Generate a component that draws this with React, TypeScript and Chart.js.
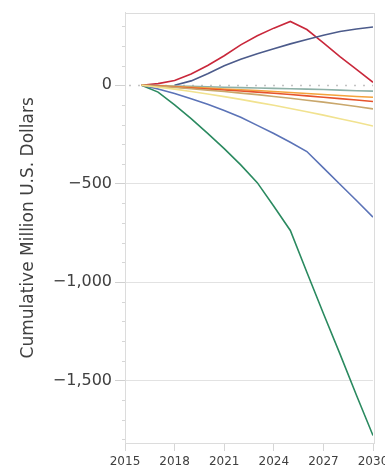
import React, { useEffect, useRef } from "react";
import { Chart, registerables } from "chart.js";

Chart.register(...registerables);

const years = [2016, 2017, 2018, 2019, 2020, 2021, 2022, 2023, 2024, 2025, 2026, 2027, 2028, 2029, 2030];
const navyYears = [2018, 2019, 2020, 2021, 2022, 2023, 2024, 2025, 2026, 2027, 2028, 2029, 2030];

const redValues = [0, 8, 24, 57, 100, 150, 205, 251, 290, 324, 283, 215, 145, 80, 15];
const navyValues = [0, 22, 58, 99, 132, 160, 185, 210, 232, 254, 273, 286, 296];
const tealValues = [0, -2, -4, -6, -8, -10, -12, -14, -16, -18, -20, -22, -25, -28, -30];
const orangeValues = [0, -3, -7, -11, -15, -19, -23, -27, -32, -37, -42, -47, -52, -57, -61];
const redOrangeValues = [0, -4, -9, -14, -19, -24, -29, -35, -41, -47, -54, -61, -68, -75, -83];
const tanValues = [0, -5, -11, -18, -25, -32, -40, -48, -57, -66, -76, -86, -97, -108, -120];
const yellowValues = [0, -10, -20, -32, -45, -58, -72, -87, -102, -118, -135, -152, -170, -188, -207];
const blueValues = [0, -19, -42, -69, -97, -128, -163, -204, -245, -290, -337, -420, -503, -586, -670];
const greenValues = [0, -35, -100, -170, -245, -322, -405, -495, -615, -738, -950, -1160, -1365, -1575, -1780];

const xTicks = [2015, 2018, 2021, 2024, 2027, 2030];
const yTicks = [-1500, -1000, -500, 0];
const yMinorTicks = [-1800, -1700, -1600, -1400, -1300, -1200, -1100, -900, -800, -700, -600, -400, -300, -200, -100, 100, 200, 300];

const yTitle = "Cumulative Million U.S. Dollars";

const toPoints = (xs: number[], ys: number[]) => ys.map((y, i) => ({ x: xs[i], y }));

const fmtY = (v: number) => (v < 0 ? "\u2212" : "") + Math.abs(v).toLocaleString("en-US");

const extras = {
  id: "extras",
  beforeDatasetsDraw(chart: any) {
    const { ctx, chartArea, scales } = chart;
    const y = scales.y;
    ctx.save();
    const y0 = Math.round(y.getPixelForValue(0)) + 0.5;
    ctx.strokeStyle = "#c4c4c4";
    ctx.lineWidth = 1.5;
    ctx.setLineDash([2, 7]);
    ctx.beginPath();
    ctx.moveTo(chartArea.left + 4, y0);
    ctx.lineTo(chartArea.right, y0);
    ctx.stroke();
    ctx.setLineDash([]);
    ctx.strokeStyle = "#d6d6d6";
    ctx.lineWidth = 1;
    yMinorTicks.forEach((v) => {
      const p = Math.round(y.getPixelForValue(v)) + 0.5;
      ctx.beginPath();
      ctx.moveTo(chartArea.left - 3, p);
      ctx.lineTo(chartArea.left, p);
      ctx.stroke();
    });
    ctx.strokeStyle = "#dcdcdc";
    ctx.lineWidth = 1;
    ctx.strokeRect(
      Math.round(chartArea.left) + 0.5,
      Math.round(chartArea.top) + 0.5,
      Math.round(chartArea.right - chartArea.left) + 1,
      Math.round(chartArea.bottom - chartArea.top)
    );
    ctx.restore();
  },
};

export default function App() {
  const ref = useRef<HTMLCanvasElement>(null);
  useEffect(() => {
    if (!ref.current) return;
    const mk = (label: string, xs: number[], ys: number[], color: string) => ({
      label,
      data: toPoints(xs, ys),
      borderColor: color,
      backgroundColor: color,
      borderWidth: 1.6,
      pointRadius: 0,
      tension: 0,
      fill: false,
    });
    const chart = new Chart(ref.current, {
      type: "line",
      data: {
        datasets: [
          mk("yellow", years, yellowValues, "#f1e28f"),
          mk("tan", years, tanValues, "#c9a76c"),
          mk("redorange", years, redOrangeValues, "#e6532c"),
          mk("orange", years, orangeValues, "#f4a23c"),
          mk("teal", years, tealValues, "#8db0a6"),
          mk("blue", years, blueValues, "#5b73b7"),
          mk("green", years, greenValues, "#2b8a60"),
          mk("navy", navyYears, navyValues, "#4c5b8b"),
          mk("red", years, redValues, "#c9283b"),
        ],
      },
      options: {
        responsive: false,
        animation: false,
        events: [],
        layout: { padding: { top: 10, right: 27, left: 0, bottom: 0 } },
        plugins: { legend: { display: false }, tooltip: { enabled: false } },
        scales: {
          x: {
            type: "linear",
            min: 2015,
            max: 2030,
            afterBuildTicks: (s: any) => {
              s.ticks = xTicks.map((v) => ({ value: v }));
            },
            afterFit: (s: any) => {
              s.height = 28;
            },
            grid: { drawOnChartArea: false, tickLength: 8, color: "#d6d6d6", tickColor: "#d6d6d6" },
            border: { display: true, color: "#d6d6d6" },
            ticks: {
              padding: 4,
              maxRotation: 0,
              autoSkip: false,
              color: "#404040",
              font: { family: "'DejaVu Sans', sans-serif", size: 12 },
              callback: (v: any) => String(v),
            },
          },
          y: {
            type: "linear",
            min: -1818,
            max: 369,
            afterBuildTicks: (s: any) => {
              s.ticks = yTicks.map((v) => ({ value: v }));
            },
            afterFit: (s: any) => {
              s.width = 125;
            },
            grid: {
              tickLength: 10,
              color: (c: any) => (c.tick && c.tick.value === 0 ? "rgba(0,0,0,0)" : "#e2e2e2"),
              tickColor: "#d0d0d0",
            },
            border: { display: true, color: "#dcdcdc" },
            ticks: {
              padding: 3,
              color: "#404040",
              font: { family: "'DejaVu Sans', sans-serif", size: 16 },
              callback: (v: any) => fmtY(Number(v)),
            },
            title: {
              display: true,
              text: yTitle,
              color: "#404040",
              font: { family: "'DejaVu Sans', sans-serif", size: 17 },
              padding: { top: 18, bottom: 0 },
            },
          },
        },
      },
      plugins: [extras],
    });
    return () => chart.destroy();
  }, []);
  return (
    <div style={{ position: "fixed", left: 0, top: 0, width: 385, height: 471, overflow: "hidden", background: "#fff" }}>
      <canvas ref={ref} width={400} height={471} style={{ display: "block" }} />
    </div>
  );
}
